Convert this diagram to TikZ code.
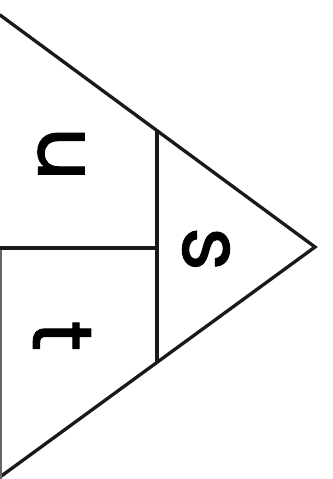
\documentclass[tikz,border=0pt]{standalone}
\usepackage{fontspec}
\setmainfont{Poppins}
\newfontfamily\letterfont{Poppins}[FakeBold=1.2]
\begin{document}
\begin{tikzpicture}[x=1pt,y=-1pt,
  edge/.style={line width=3.3pt,line cap=round,line join=miter,black!90},
  letter/.style={rotate=-90,inner sep=0pt,font=\letterfont\fontsize{84}{84}\selectfont}]
\useasboundingbox[fill=white] (0,0) rectangle (332,479);
\coordinate (tl) at (0,15);
\coordinate (ap) at (315,247);
\coordinate (bl) at (0,477);
\coordinate (vt) at (157,131);
\coordinate (vb) at (157,362);
\coordinate (hl) at (0,248);
\coordinate (hr) at (157,248);
\coordinate (lt) at (0.8,250);
\coordinate (lb) at (0.8,479);
\draw[edge] (tl) -- (ap) -- (bl);
\draw[line width=1.6pt,black!60] (lt) -- (lb);
\draw[edge] (vt) -- (vb);
\draw[edge] (hl) -- (hr);
\node[letter] (u) at (61,154) {u};
\node[letter] (t) at (62,336) {t};
\node[letter] (s) at (206,249) {s};
\end{tikzpicture}
\end{document}
